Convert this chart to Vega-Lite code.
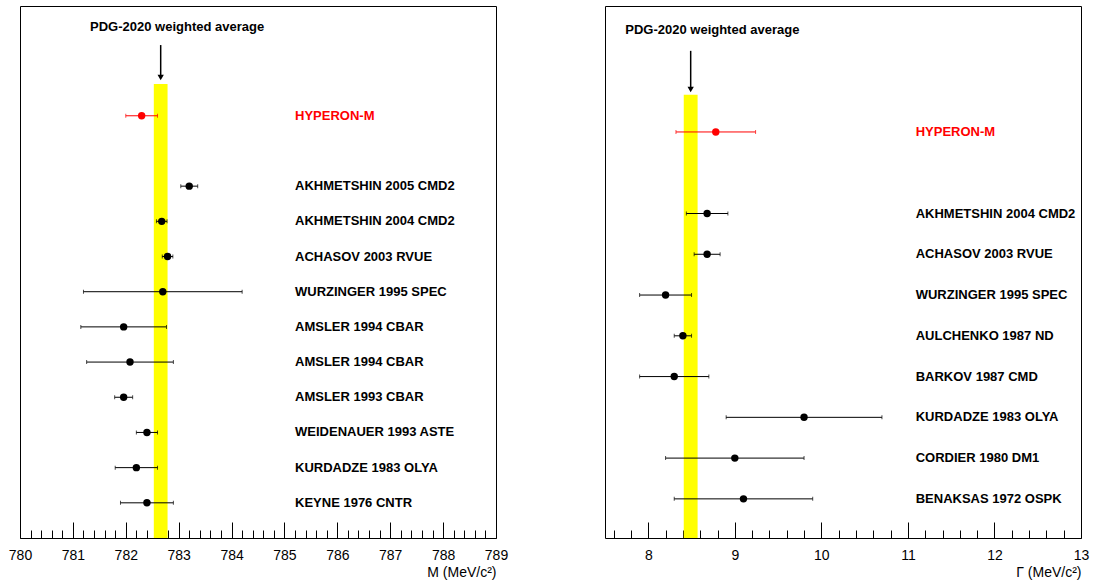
{
  "$schema": "https://vega.github.io/schema/vega-lite/v6.json",
  "background": "white",
  "padding": {"left": 7, "top": 5, "right": 0, "bottom": 0},
  "bounds": "flush",
  "spacing": 109,
  "config": {
    "view": {"stroke": "black", "strokeWidth": 1},
    "axis": {"grid": false, "domain": false, "labelFont": "Liberation Sans", "labelFontSize": 14, "titleFont": "Liberation Sans", "titleFontSize": 14, "titleFontWeight": "normal", "tickColor": "black", "labelColor": "black", "titleColor": "black", "labelOverlap": false, "labelFlush": false},
    "text": {"font": "Liberation Sans"}
  },
  "datasets": {
    "mass": [
      {"name": "HYPERON-M", "src": "HYPERON-M", "row": 12, "m": 782.3, "lo": 782.0, "hi": 782.6},
      {"name": "AKHMETSHIN 2005 CMD2", "src": "PDG", "row": 10, "m": 783.2, "lo": 783.04, "hi": 783.36},
      {"name": "AKHMETSHIN 2004 CMD2", "src": "PDG", "row": 9, "m": 782.68, "lo": 782.58, "hi": 782.78},
      {"name": "ACHASOV 2003 RVUE", "src": "PDG", "row": 8, "m": 782.79, "lo": 782.69, "hi": 782.89},
      {"name": "WURZINGER 1995 SPEC", "src": "PDG", "row": 7, "m": 782.7, "lo": 781.2, "hi": 784.2},
      {"name": "AMSLER 1994 CBAR", "src": "PDG", "row": 6, "m": 781.96, "lo": 781.15, "hi": 782.77},
      {"name": "AMSLER 1994 CBAR", "src": "PDG", "row": 5, "m": 782.08, "lo": 781.26, "hi": 782.9},
      {"name": "AMSLER 1993 CBAR", "src": "PDG", "row": 4, "m": 781.96, "lo": 781.79, "hi": 782.13},
      {"name": "WEIDENAUER 1993 ASTE", "src": "PDG", "row": 3, "m": 782.4, "lo": 782.2, "hi": 782.6},
      {"name": "KURDADZE 1983 OLYA", "src": "PDG", "row": 2, "m": 782.2, "lo": 781.8, "hi": 782.6},
      {"name": "KEYNE 1976 CNTR", "src": "PDG", "row": 1, "m": 782.4, "lo": 781.9, "hi": 782.9}
    ],
    "width": [
      {"name": "HYPERON-M", "src": "HYPERON-M", "row": 10, "g": 8.78, "lo": 8.32, "hi": 9.24},
      {"name": "AKHMETSHIN 2004 CMD2", "src": "PDG", "row": 8, "g": 8.68, "lo": 8.44, "hi": 8.92},
      {"name": "ACHASOV 2003 RVUE", "src": "PDG", "row": 7, "g": 8.68, "lo": 8.53, "hi": 8.83},
      {"name": "WURZINGER 1995 SPEC", "src": "PDG", "row": 6, "g": 8.2, "lo": 7.9, "hi": 8.5},
      {"name": "AULCHENKO 1987 ND", "src": "PDG", "row": 5, "g": 8.4, "lo": 8.3, "hi": 8.5},
      {"name": "BARKOV 1987 CMD", "src": "PDG", "row": 4, "g": 8.3, "lo": 7.9, "hi": 8.7},
      {"name": "KURDADZE 1983 OLYA", "src": "PDG", "row": 3, "g": 9.8, "lo": 8.9, "hi": 10.7},
      {"name": "CORDIER 1980 DM1", "src": "PDG", "row": 2, "g": 9.0, "lo": 8.2, "hi": 9.8},
      {"name": "BENAKSAS 1972 OSPK", "src": "PDG", "row": 1, "g": 9.1, "lo": 8.3, "hi": 9.9}
    ],
    "pdgMass": [{"lo": 782.53, "hi": 782.79, "avg": 782.66}],
    "pdgWidth": [{"lo": 8.41, "hi": 8.57, "avg": 8.49}]
  },
  "hconcat": [
    {
      "width": 476,
      "height": 532,
      "layer": [
        {
          "data": {"name": "pdgMass"},
          "mark": {"type": "rect", "color": "#ffff00"},
          "encoding": {
            "x": {"field": "lo", "type": "quantitative", "title": "M (MeV/c²)", "scale": {"domain": [780, 789], "nice": false, "zero": false},
              "axis": {
                "values": [780, 780.2, 780.4, 780.6, 780.8, 781, 781.2, 781.4, 781.6, 781.8, 782, 782.2, 782.4, 782.6, 782.8, 783, 783.2, 783.4, 783.6, 783.8, 784, 784.2, 784.4, 784.6, 784.8, 785, 785.2, 785.4, 785.6, 785.8, 786, 786.2, 786.4, 786.6, 786.8, 787, 787.2, 787.4, 787.6, 787.8, 788, 788.2, 788.4, 788.6, 788.8, 789],
                "tickCount": 200,
                "tickSize": {"condition": {"test": "abs(datum.value - round(datum.value)) < 0.001", "value": -16}, "value": -8},
                "tickWidth": 1,
                "tickOpacity": 1,
                "labelOverlap": false,
                "labelFlush": false,
                "labelBound": false,
                "labelExpr": "abs(datum.value - round(datum.value)) < 0.001 ? '' + round(datum.value) : ''",
                "labelPadding": 26,
                "titleAnchor": "end",
                "titleAlign": "right",
                "titlePadding": -5
              }
            },
            "x2": {"field": "hi"},
            "y": {"datum": 0, "type": "quantitative", "axis": null, "scale": {"domain": [0, 15.12], "nice": false, "zero": false}},
            "y2": {"datum": 12.9}
          }
        },
        {
          "data": {"name": "pdgMass"},
          "mark": {"type": "rule", "color": "black", "strokeWidth": 1.5},
          "encoding": {
            "x": {"field": "avg", "type": "quantitative", "title": "M (MeV/c²)"},
            "y": {"datum": 14.01, "type": "quantitative", "axis": null},
            "y2": {"datum": 13.15}
          }
        },
        {
          "data": {"name": "pdgMass"},
          "mark": {"type": "point", "shape": "triangle-down", "filled": true, "color": "black", "size": 40, "opacity": 1},
          "encoding": {
            "x": {"field": "avg", "type": "quantitative", "title": "M (MeV/c²)"},
            "y": {"datum": 13.09, "type": "quantitative", "axis": null}
          }
        },
        {
          "data": {"name": "pdgMass"},
          "mark": {"type": "text", "text": "PDG-2020 weighted average", "fontSize": 13, "fontWeight": "bold", "align": "center", "baseline": "middle", "color": "black"},
          "encoding": {
            "x": {"datum": 782.97, "type": "quantitative", "title": "M (MeV/c²)"},
            "y": {"datum": 14.52, "type": "quantitative", "axis": null}
          }
        },
        {
          "data": {"name": "mass"},
          "mark": {"type": "errorbar", "ticks": {"size": 4}, "thickness": 1},
          "encoding": {
            "x": {"field": "lo", "type": "quantitative", "title": "M (MeV/c²)"},
            "x2": {"field": "hi"},
            "y": {"field": "row", "type": "quantitative", "axis": null},
            "color": {"field": "src", "type": "nominal", "scale": {"domain": ["HYPERON-M", "PDG"], "range": ["#ff0000", "#000000"]}, "legend": null}
          }
        },
        {
          "data": {"name": "mass"},
          "mark": {"type": "circle", "size": 55, "opacity": 1},
          "encoding": {
            "x": {"field": "m", "type": "quantitative", "title": "M (MeV/c²)"},
            "y": {"field": "row", "type": "quantitative", "axis": null},
            "color": {"field": "src", "type": "nominal", "scale": {"domain": ["HYPERON-M", "PDG"], "range": ["#ff0000", "#000000"]}, "legend": null}
          }
        },
        {
          "data": {"name": "mass"},
          "mark": {"type": "text", "fontSize": 13, "fontWeight": "bold", "align": "left", "baseline": "middle"},
          "encoding": {
            "x": {"datum": 785.2, "type": "quantitative", "title": "M (MeV/c²)"},
            "y": {"field": "row", "type": "quantitative", "axis": null},
            "text": {"field": "name"},
            "color": {"field": "src", "type": "nominal", "scale": {"domain": ["HYPERON-M", "PDG"], "range": ["#ff0000", "#000000"]}, "legend": null}
          }
        }
      ]
    },
    {
      "width": 476,
      "height": 532,
      "layer": [
        {
          "data": {"name": "pdgWidth"},
          "mark": {"type": "rect", "color": "#ffff00"},
          "encoding": {
            "x": {"field": "lo", "type": "quantitative", "title": "Γ (MeV/c²)", "scale": {"domain": [7.5, 13], "nice": false, "zero": false},
              "axis": {
                "values": [7.6, 7.8, 8, 8.2, 8.4, 8.6, 8.8, 9, 9.2, 9.4, 9.6, 9.8, 10, 10.2, 10.4, 10.6, 10.8, 11, 11.2, 11.4, 11.6, 11.8, 12, 12.2, 12.4, 12.6, 12.8, 13],
                "tickCount": 200,
                "tickSize": {"condition": {"test": "abs(datum.value - round(datum.value)) < 0.001", "value": -16}, "value": -8},
                "tickWidth": 1,
                "tickOpacity": 1,
                "labelOverlap": false,
                "labelFlush": false,
                "labelBound": false,
                "labelExpr": "abs(datum.value - round(datum.value)) < 0.001 ? '' + round(datum.value) : ''",
                "labelPadding": 26,
                "titleAnchor": "end",
                "titleAlign": "right",
                "titlePadding": -5
              }
            },
            "x2": {"field": "hi"},
            "y": {"datum": 0.04, "type": "quantitative", "axis": null, "scale": {"domain": [0.04, 13.09], "nice": false, "zero": false}},
            "y2": {"datum": 10.91}
          }
        },
        {
          "data": {"name": "pdgWidth"},
          "mark": {"type": "rule", "color": "black", "strokeWidth": 1.5},
          "encoding": {
            "x": {"field": "avg", "type": "quantitative", "title": "Γ (MeV/c²)"},
            "y": {"datum": 11.99, "type": "quantitative", "axis": null},
            "y2": {"datum": 11.1}
          }
        },
        {
          "data": {"name": "pdgWidth"},
          "mark": {"type": "point", "shape": "triangle-down", "filled": true, "color": "black", "size": 40, "opacity": 1},
          "encoding": {
            "x": {"field": "avg", "type": "quantitative", "title": "Γ (MeV/c²)"},
            "y": {"datum": 11.04, "type": "quantitative", "axis": null}
          }
        },
        {
          "data": {"name": "pdgWidth"},
          "mark": {"type": "text", "text": "PDG-2020 weighted average", "fontSize": 13, "fontWeight": "bold", "align": "center", "baseline": "middle", "color": "black"},
          "encoding": {
            "x": {"datum": 8.74, "type": "quantitative", "title": "Γ (MeV/c²)"},
            "y": {"datum": 12.5, "type": "quantitative", "axis": null}
          }
        },
        {
          "data": {"name": "width"},
          "mark": {"type": "errorbar", "ticks": {"size": 4}, "thickness": 1},
          "encoding": {
            "x": {"field": "lo", "type": "quantitative", "title": "Γ (MeV/c²)"},
            "x2": {"field": "hi"},
            "y": {"field": "row", "type": "quantitative", "axis": null},
            "color": {"field": "src", "type": "nominal", "scale": {"domain": ["HYPERON-M", "PDG"], "range": ["#ff0000", "#000000"]}, "legend": null}
          }
        },
        {
          "data": {"name": "width"},
          "mark": {"type": "circle", "size": 55, "opacity": 1},
          "encoding": {
            "x": {"field": "g", "type": "quantitative", "title": "Γ (MeV/c²)"},
            "y": {"field": "row", "type": "quantitative", "axis": null},
            "color": {"field": "src", "type": "nominal", "scale": {"domain": ["HYPERON-M", "PDG"], "range": ["#ff0000", "#000000"]}, "legend": null}
          }
        },
        {
          "data": {"name": "width"},
          "mark": {"type": "text", "fontSize": 13, "fontWeight": "bold", "align": "left", "baseline": "middle"},
          "encoding": {
            "x": {"datum": 11.09, "type": "quantitative", "title": "Γ (MeV/c²)"},
            "y": {"field": "row", "type": "quantitative", "axis": null},
            "text": {"field": "name"},
            "color": {"field": "src", "type": "nominal", "scale": {"domain": ["HYPERON-M", "PDG"], "range": ["#ff0000", "#000000"]}, "legend": null}
          }
        }
      ]
    }
  ]
}
